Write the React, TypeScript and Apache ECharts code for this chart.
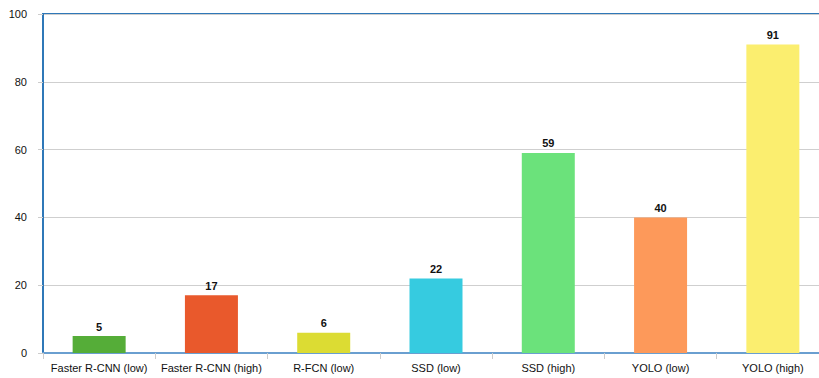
import React, { useEffect, useRef } from "react";
import * as echarts from "echarts";

const categories = [
  "Faster R-CNN (low)",
  "Faster R-CNN (high)",
  "R-FCN (low)",
  "SSD (low)",
  "SSD (high)",
  "YOLO (low)",
  "YOLO (high)",
];
const values = [5, 17, 6, 22, 59, 40, 91];
const colors = ["#55ad38", "#e9592c", "#dcdc33", "#36cbe0", "#6be27b", "#fd995a", "#fbee6f"];
const yTicks = [0, 20, 40, 60, 80, 100];

export default function App() {
  const ref = useRef<HTMLDivElement>(null);
  useEffect(() => {
    if (!ref.current) return;
    const chart = echarts.init(ref.current, undefined, { renderer: "svg" });
    chart.setOption({
      animation: false,
      textStyle: { fontFamily: "Liberation Sans, Arial, sans-serif" },
      grid: {
        left: 43,
        top: 14,
        width: 786,
        height: 339,
        show: true,
        borderColor: "#2f78b8",
        borderWidth: 2,
        backgroundColor: "transparent",
      },
      xAxis: {
        type: "category",
        data: categories,
        axisLine: { lineStyle: { color: "#6a9fd0", width: 2 } },
        axisTick: { show: true, length: 6, lineStyle: { color: "#cccccc" } },
        axisLabel: { color: "#111", fontSize: 11, margin: 9, interval: 0 },
      },
      yAxis: {
        type: "value",
        min: yTicks[0],
        max: yTicks[yTicks.length - 1],
        interval: 20,
        axisLine: { show: true, lineStyle: { color: "#2f78b8", width: 2 } },
        axisTick: { show: true, length: 5, lineStyle: { color: "#cccccc" } },
        axisLabel: { color: "#111", fontSize: 11, margin: 16 },
        splitLine: { lineStyle: { color: "#cfcfcf", width: 1 } },
      },
      series: [
        {
          type: "bar",
          barWidth: 53,
          data: values.map((v, i) => ({ value: v, itemStyle: { color: colors[i] } })),
          label: {
            show: true,
            position: "top",
            color: "#111",
            fontWeight: "bold",
            fontSize: 11,
            distance: 4,
          },
        },
      ],
    });
    return () => chart.dispose();
  }, []);
  return (
    <div
      style={{
        position: "fixed",
        left: 0,
        top: 0,
        width: 819,
        height: 378,
        overflow: "hidden",
        background: "#fff",
      }}
    >
      <div ref={ref} style={{ width: 850, height: 378 }} />
    </div>
  );
}
